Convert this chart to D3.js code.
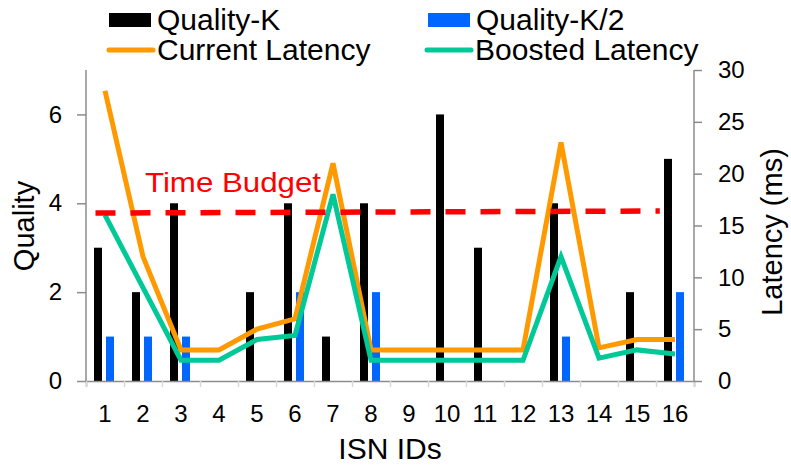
<!DOCTYPE html>
<html><head><meta charset="utf-8">
<script src="https://cdn.jsdelivr.net/npm/d3@7"></script>
<style>
html,body{margin:0;padding:0;background:#fff;}
svg text{font-family:Arial,"Liberation Sans",sans-serif;fill:#000;}
</style></head>
<body><svg id="c" width="791" height="466"></svg>
<script>
const categories = ['1','2','3','4','5','6','7','8','9','10','11','12','13','14','15','16'];
const qualityK  = [3,2,4,0,2,4,1,4,0,6,3,0,4,0,2,5];
const qualityK2 = [1,1,1,0,0,2,0,2,0,0,0,0,1,0,0,2];
const currentLatency = [28,12,3,3,5,6,21,3,3,3,3,3,23,3.2,4,4];
const boostedLatency = [16,9,2,2,4,4.4,18,2,2,2,2,2,12,2.2,3,2.6];
const budgetPos = [0.75, 15.6];
const budgetMs  = [16.2, 16.4];
const qualityTicks = [0,2,4,6];
const latencyTicks = [0,5,10,15,20,25,30];
const seriesNames = ['Quality-K','Quality-K/2','Current Latency','Boosted Latency'];

const svg = d3.select('#c');
const L = 86, R = 694, T = 70, B = 381;
const axisColor = '#8c8c8c';
const cBlack = '#000000', cBlue = '#0066ff', cOrange = '#ff9900', cGreen = '#00c896', cRed = '#ff0000';

const xBand = d3.scaleBand().domain(categories).range([L, R]);
const xIdx = d3.scaleLinear().domain([0.5, categories.length + 0.5]).range([L, R]);
const xInner = d3.scaleBand().domain(['k','k2']).range([8, 28]).paddingInner(1/3);
const yQ = d3.scaleLinear().domain([0, 7]).range([B, T]);
const yL = d3.scaleLinear().domain([0, 30]).range([B, T]);

// bars
const bars = svg.append('g');
categories.forEach((c, i) => {
  bars.append('rect').attr('x', xBand(c) + xInner('k')).attr('width', xInner.bandwidth())
    .attr('y', yQ(qualityK[i])).attr('height', yQ(0) - yQ(qualityK[i])).attr('fill', cBlack);
  bars.append('rect').attr('x', xBand(c) + xInner('k2')).attr('width', xInner.bandwidth())
    .attr('y', yQ(qualityK2[i])).attr('height', yQ(0) - yQ(qualityK2[i])).attr('fill', cBlue);
});

// axes
const gx = svg.append('g').attr('transform', `translate(0,${B})`)
  .call(d3.axisBottom(xIdx).tickValues(d3.range(0.5, categories.length + 1, 1)).tickSize(6).tickFormat(''));
gx.select('.domain').attr('stroke', axisColor).attr('stroke-width', 1.5);
gx.selectAll('.tick line').attr('stroke', '#d9d9d9').attr('stroke-width', 1.5);

const gxl = svg.append('g').attr('transform', `translate(0,${B})`)
  .call(d3.axisBottom(xBand).tickSize(0).tickPadding(24));
gxl.select('.domain').remove();
gxl.selectAll('text').attr('font-size', 24);

const gy = svg.append('g').attr('transform', `translate(${L},0)`)
  .call(d3.axisLeft(yQ).tickValues(qualityTicks).tickFormat(d3.format('d')).tickSize(9).tickPadding(15));
gy.select('.domain').attr('stroke', axisColor).attr('stroke-width', 1.5).attr('d', `M0,${T}V${B}`);
gy.selectAll('.tick line').attr('stroke', axisColor).attr('stroke-width', 1.5);
gy.selectAll('text').attr('font-size', 24);

const gy2 = svg.append('g').attr('transform', `translate(${R},0)`)
  .call(d3.axisRight(yL).tickValues(latencyTicks).tickFormat(d3.format('d')).tickSize(8).tickPadding(16));
gy2.select('.domain').attr('stroke', axisColor).attr('stroke-width', 1.5).attr('d', `M0,${T}V${B}`);
gy2.selectAll('.tick line').attr('stroke', axisColor).attr('stroke-width', 1.5);
gy2.selectAll('text').attr('font-size', 24);

// lines
const line = d3.line().x((d, i) => xIdx(i + 1)).y(d => yL(d));
svg.append('path').datum(currentLatency).attr('d', line).attr('fill', 'none')
  .attr('stroke', cOrange).attr('stroke-width', 5).attr('stroke-linejoin', 'miter');
svg.append('path').datum(boostedLatency).attr('d', line).attr('fill', 'none')
  .attr('stroke', cGreen).attr('stroke-width', 5).attr('stroke-linejoin', 'miter');

// time budget
const bLine = d3.line().x(d => xIdx(d[0])).y(d => yL(d[1]));
svg.append('path').datum(budgetPos.map((p, i) => [p, budgetMs[i]])).attr('d', bLine)
  .attr('fill', 'none').attr('stroke', cRed).attr('stroke-width', 5.5).attr('stroke-dasharray', '20,15');
svg.append('text').attr('x', 145).attr('y', 192).style('fill', cRed)
  .attr('font-size', 28).attr('textLength', 176).attr('lengthAdjust', 'spacingAndGlyphs').text('Time Budget');

// axis titles
svg.append('text').attr('transform', `translate(34,226) rotate(-90)`).attr('text-anchor', 'middle')
  .attr('font-size', 29).text('Quality');
svg.append('text').attr('transform', `translate(782,232) rotate(-90)`).attr('text-anchor', 'middle')
  .attr('font-size', 29).text('Latency (ms)');
svg.append('text').attr('x', 390).attr('y', 459).attr('text-anchor', 'middle')
  .attr('font-size', 30).text('ISN IDs');

// legend
const lg = svg.append('g');
const legendItems = [
  {name: seriesNames[0], type: 'rect', color: cBlack, x: 109, y: 20},
  {name: seriesNames[1], type: 'rect', color: cBlue, x: 428, y: 20},
  {name: seriesNames[2], type: 'line', color: cOrange, x: 109, y: 50},
  {name: seriesNames[3], type: 'line', color: cGreen, x: 427, y: 50}
];
legendItems.forEach(it => {
  if (it.type === 'rect') {
    lg.append('rect').attr('x', it.x).attr('y', it.y - 7).attr('width', 42).attr('height', 14).attr('fill', it.color);
  } else {
    lg.append('line').attr('x1', it.x).attr('x2', it.x + 44).attr('y1', it.y).attr('y2', it.y)
      .attr('stroke', it.color).attr('stroke-width', 5).attr('stroke-linecap', 'round');
  }
  lg.append('text').attr('x', it.x + 48).attr('y', it.y + 10).attr('font-size', 30).text(it.name);
});
</script></body></html>
